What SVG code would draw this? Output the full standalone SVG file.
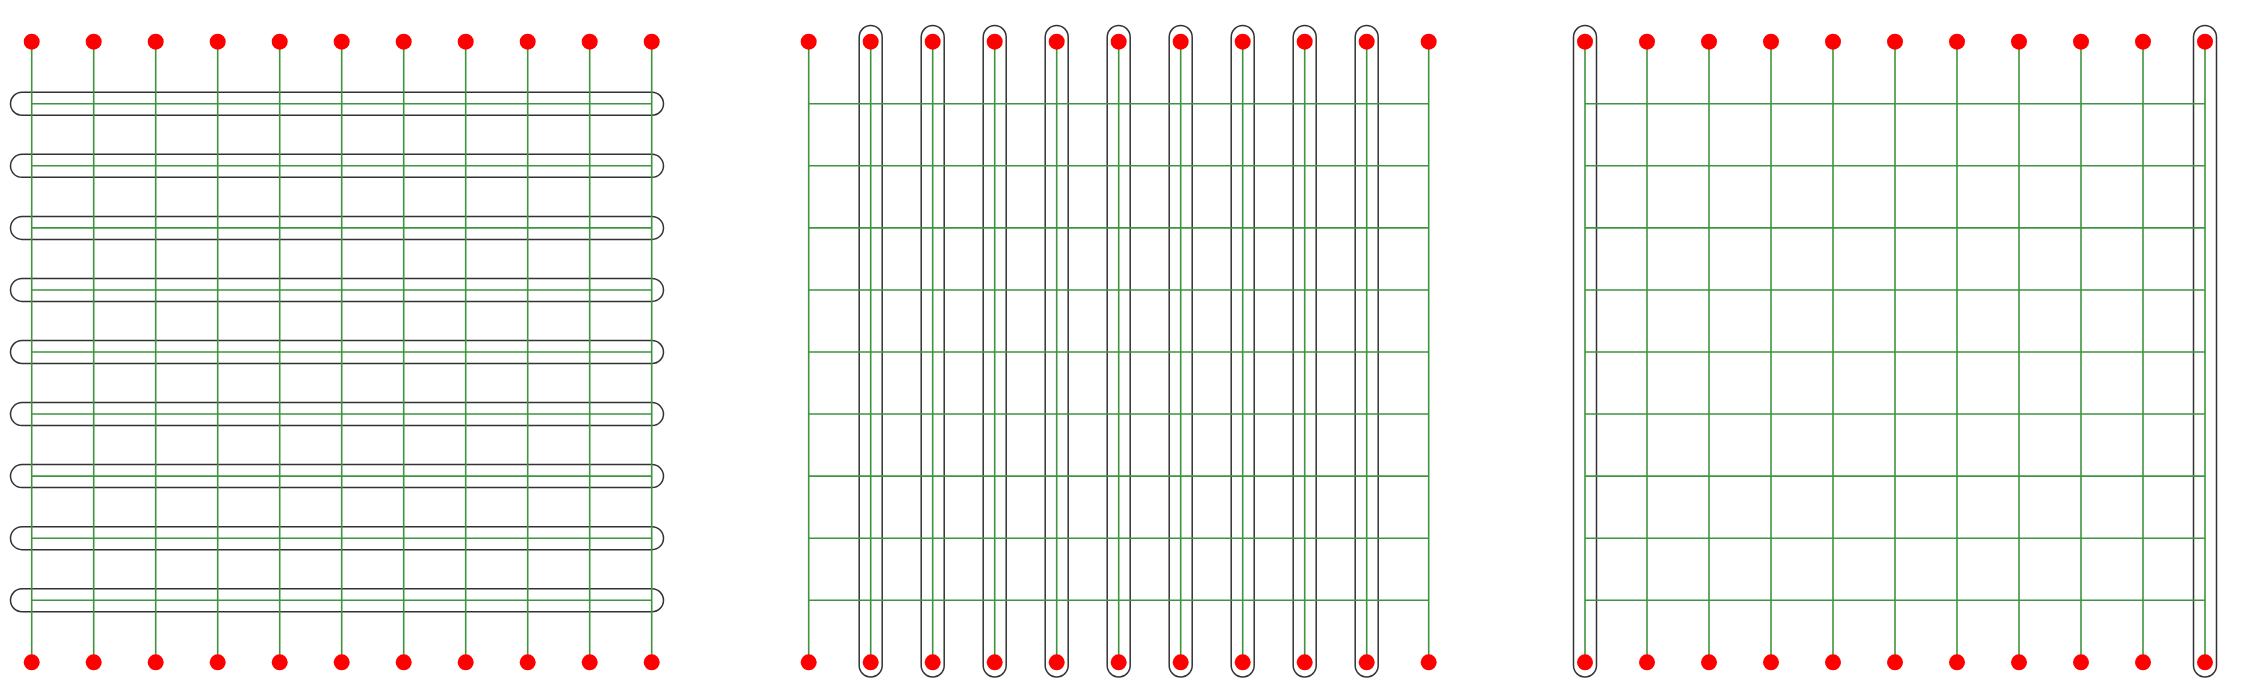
<svg xmlns="http://www.w3.org/2000/svg" width="2241" height="698" viewBox="0 0 2241 698">
<style>
.loop{fill:none;stroke:#333;stroke-width:1.5}
.g{stroke:#3f943f;stroke-width:1.6;fill:none}
.n{fill:#ff0000}
</style>
<rect width="2241" height="698" fill="#fff"/>
<g id="loops">
<rect class="loop" x="10.5" y="92.26" width="653" height="23" rx="11.5"/>
<rect class="loop" x="10.5" y="154.32" width="653" height="23" rx="11.5"/>
<rect class="loop" x="10.5" y="216.38" width="653" height="23" rx="11.5"/>
<rect class="loop" x="10.5" y="278.44" width="653" height="23" rx="11.5"/>
<rect class="loop" x="10.5" y="340.5" width="653" height="23" rx="11.5"/>
<rect class="loop" x="10.5" y="402.56" width="653" height="23" rx="11.5"/>
<rect class="loop" x="10.5" y="464.62" width="653" height="23" rx="11.5"/>
<rect class="loop" x="10.5" y="526.68" width="653" height="23" rx="11.5"/>
<rect class="loop" x="10.5" y="588.74" width="653" height="23" rx="11.5"/>
<rect class="loop" x="859.2" y="25.5" width="23" height="651.5" rx="11.5"/>
<rect class="loop" x="921.2" y="25.5" width="23" height="651.5" rx="11.5"/>
<rect class="loop" x="983.2" y="25.5" width="23" height="651.5" rx="11.5"/>
<rect class="loop" x="1045.2" y="25.5" width="23" height="651.5" rx="11.5"/>
<rect class="loop" x="1107.2" y="25.5" width="23" height="651.5" rx="11.5"/>
<rect class="loop" x="1169.2" y="25.5" width="23" height="651.5" rx="11.5"/>
<rect class="loop" x="1231.2" y="25.5" width="23" height="651.5" rx="11.5"/>
<rect class="loop" x="1293.2" y="25.5" width="23" height="651.5" rx="11.5"/>
<rect class="loop" x="1355.2" y="25.5" width="23" height="651.5" rx="11.5"/>
<rect class="loop" x="1573.5" y="25.5" width="23" height="651.5" rx="11.5"/>
<rect class="loop" x="2193.5" y="25.5" width="23" height="651.5" rx="11.5"/>
</g>
<g id="connectors" class="g">
<path d="M31.7 41.7V662.3M93.7 41.7V662.3M155.7 41.7V662.3M217.7 41.7V662.3M279.7 41.7V662.3M341.7 41.7V662.3M403.7 41.7V662.3M465.7 41.7V662.3M527.7 41.7V662.3M589.7 41.7V662.3M651.7 41.7V662.3"/>
<path d="M31.7 103.76H651.7M31.7 165.82H651.7M31.7 227.88H651.7M31.7 289.94H651.7M31.7 352H651.7M31.7 414.06H651.7M31.7 476.12H651.7M31.7 538.18H651.7M31.7 600.24H651.7"/>
<path d="M808.7 41.7V662.3M870.7 41.7V662.3M932.7 41.7V662.3M994.7 41.7V662.3M1056.7 41.7V662.3M1118.7 41.7V662.3M1180.7 41.7V662.3M1242.7 41.7V662.3M1304.7 41.7V662.3M1366.7 41.7V662.3M1428.7 41.7V662.3"/>
<path d="M808.7 103.76H1428.7M808.7 165.82H1428.7M808.7 227.88H1428.7M808.7 289.94H1428.7M808.7 352H1428.7M808.7 414.06H1428.7M808.7 476.12H1428.7M808.7 538.18H1428.7M808.7 600.24H1428.7"/>
<path d="M1585 41.7V662.3M1647 41.7V662.3M1709 41.7V662.3M1771 41.7V662.3M1833 41.7V662.3M1895 41.7V662.3M1957 41.7V662.3M2019 41.7V662.3M2081 41.7V662.3M2143 41.7V662.3M2205 41.7V662.3"/>
<path d="M1585 103.76H2205M1585 165.82H2205M1585 227.88H2205M1585 289.94H2205M1585 352H2205M1585 414.06H2205M1585 476.12H2205M1585 538.18H2205M1585 600.24H2205"/>
</g>
<g id="n-a-top"><circle class="n" cx="31.7" cy="41.7" r="8"/><circle class="n" cx="93.7" cy="41.7" r="8"/><circle class="n" cx="155.7" cy="41.7" r="8"/><circle class="n" cx="217.7" cy="41.7" r="8"/><circle class="n" cx="279.7" cy="41.7" r="8"/><circle class="n" cx="341.7" cy="41.7" r="8"/><circle class="n" cx="403.7" cy="41.7" r="8"/><circle class="n" cx="465.7" cy="41.7" r="8"/><circle class="n" cx="527.7" cy="41.7" r="8"/><circle class="n" cx="589.7" cy="41.7" r="8"/><circle class="n" cx="651.7" cy="41.7" r="8"/></g>
<g id="n-a-bottom"><circle class="n" cx="31.7" cy="662.3" r="8"/><circle class="n" cx="93.7" cy="662.3" r="8"/><circle class="n" cx="155.7" cy="662.3" r="8"/><circle class="n" cx="217.7" cy="662.3" r="8"/><circle class="n" cx="279.7" cy="662.3" r="8"/><circle class="n" cx="341.7" cy="662.3" r="8"/><circle class="n" cx="403.7" cy="662.3" r="8"/><circle class="n" cx="465.7" cy="662.3" r="8"/><circle class="n" cx="527.7" cy="662.3" r="8"/><circle class="n" cx="589.7" cy="662.3" r="8"/><circle class="n" cx="651.7" cy="662.3" r="8"/></g>
<g id="n-b-top"><circle class="n" cx="808.7" cy="41.7" r="8"/><circle class="n" cx="870.7" cy="41.7" r="8"/><circle class="n" cx="932.7" cy="41.7" r="8"/><circle class="n" cx="994.7" cy="41.7" r="8"/><circle class="n" cx="1056.7" cy="41.7" r="8"/><circle class="n" cx="1118.7" cy="41.7" r="8"/><circle class="n" cx="1180.7" cy="41.7" r="8"/><circle class="n" cx="1242.7" cy="41.7" r="8"/><circle class="n" cx="1304.7" cy="41.7" r="8"/><circle class="n" cx="1366.7" cy="41.7" r="8"/><circle class="n" cx="1428.7" cy="41.7" r="8"/></g>
<g id="n-b-bottom"><circle class="n" cx="808.7" cy="662.3" r="8"/><circle class="n" cx="870.7" cy="662.3" r="8"/><circle class="n" cx="932.7" cy="662.3" r="8"/><circle class="n" cx="994.7" cy="662.3" r="8"/><circle class="n" cx="1056.7" cy="662.3" r="8"/><circle class="n" cx="1118.7" cy="662.3" r="8"/><circle class="n" cx="1180.7" cy="662.3" r="8"/><circle class="n" cx="1242.7" cy="662.3" r="8"/><circle class="n" cx="1304.7" cy="662.3" r="8"/><circle class="n" cx="1366.7" cy="662.3" r="8"/><circle class="n" cx="1428.7" cy="662.3" r="8"/></g>
<g id="n-c-top"><circle class="n" cx="1585" cy="41.7" r="8"/><circle class="n" cx="1647" cy="41.7" r="8"/><circle class="n" cx="1709" cy="41.7" r="8"/><circle class="n" cx="1771" cy="41.7" r="8"/><circle class="n" cx="1833" cy="41.7" r="8"/><circle class="n" cx="1895" cy="41.7" r="8"/><circle class="n" cx="1957" cy="41.7" r="8"/><circle class="n" cx="2019" cy="41.7" r="8"/><circle class="n" cx="2081" cy="41.7" r="8"/><circle class="n" cx="2143" cy="41.7" r="8"/><circle class="n" cx="2205" cy="41.7" r="8"/></g>
<g id="n-c-bottom"><circle class="n" cx="1585" cy="662.3" r="8"/><circle class="n" cx="1647" cy="662.3" r="8"/><circle class="n" cx="1709" cy="662.3" r="8"/><circle class="n" cx="1771" cy="662.3" r="8"/><circle class="n" cx="1833" cy="662.3" r="8"/><circle class="n" cx="1895" cy="662.3" r="8"/><circle class="n" cx="1957" cy="662.3" r="8"/><circle class="n" cx="2019" cy="662.3" r="8"/><circle class="n" cx="2081" cy="662.3" r="8"/><circle class="n" cx="2143" cy="662.3" r="8"/><circle class="n" cx="2205" cy="662.3" r="8"/></g>
</svg>
